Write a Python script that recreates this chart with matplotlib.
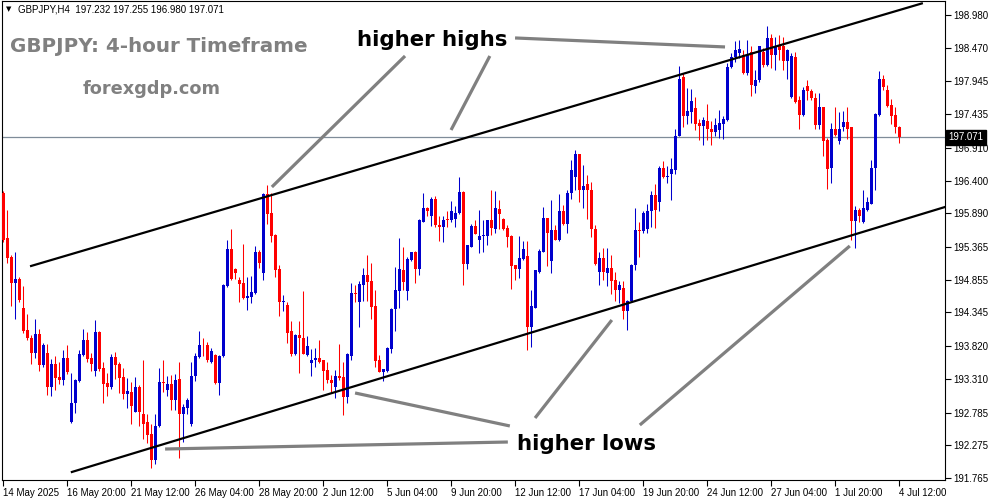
import matplotlib.pyplot as plt
import numpy as np
from matplotlib.transforms import blended_transform_factory

# GBPJPY H4 свечи (читаются с картинки)
opens = [196.21, 195.50, 195.21, 194.81, 194.87, 194.42, 194.07, 193.94, 193.71, 194.01,
         193.52, 193.71, 193.19, 193.54, 193.34, 193.29, 193.64, 192.64, 192.93, 193.27,
         193.68, 193.92, 193.63, 193.44, 194.04, 193.48, 193.25, 193.18, 193.65, 193.54,
         193.34, 193.07, 193.11, 192.80, 193.18, 192.76, 192.63, 192.45, 192.04, 192.58,
         193.26, 193.14, 193.23, 192.98, 193.31, 192.76, 192.86, 192.60, 193.35, 193.65,
         193.84, 193.84, 193.58, 193.68, 193.25, 193.66, 194.76, 195.33, 195.02, 194.85,
         194.80, 194.57, 194.58, 194.65, 195.29, 194.96, 196.19, 195.89, 195.55, 195.02,
         194.50, 194.46, 194.06, 193.70, 194.00, 193.94, 193.68, 193.56, 193.61, 193.63,
         193.60, 193.45, 193.29, 193.19, 193.36, 193.34, 193.02, 193.67, 194.65, 194.51,
         194.77, 194.93, 194.84, 194.44, 193.60, 193.41, 193.44, 193.78, 194.40, 194.68,
         195.01, 194.68, 195.16, 195.28, 195.02, 195.76, 195.98, 195.85, 196.12, 195.71,
         195.67, 195.79, 195.79, 195.80, 195.89, 196.22, 195.10, 195.37, 195.69, 195.47,
         195.54, 195.54, 195.78, 195.65, 195.96, 195.80, 195.66, 195.54, 195.08, 195.02,
         195.18, 195.22, 194.12, 194.42, 194.98, 195.29, 195.81, 195.14, 195.63, 195.48,
         195.92, 195.72, 196.20, 196.45, 196.81, 196.25, 196.35, 196.25, 195.64, 194.97,
         195.19, 194.96, 195.03, 194.85, 194.69, 194.72, 194.37, 194.53, 195.08, 195.63,
         195.62, 195.64, 195.92, 196.17, 196.06, 196.59, 196.45, 196.51, 196.56, 197.10,
         198.02, 197.41, 197.47, 197.53, 197.29, 197.25, 197.33, 197.20, 197.16, 197.19,
         197.28, 197.34, 198.17, 198.33, 198.38, 198.36, 198.07, 198.41, 197.88, 197.96,
         198.41, 198.20, 198.62, 198.36, 198.49, 198.50, 198.27, 197.70, 198.33, 197.66,
         197.42, 197.88, 197.80, 197.68, 197.27, 197.54, 197.03, 196.59, 197.21, 197.02,
         197.24, 197.32, 197.23, 195.77, 195.94, 195.75, 195.94, 196.04, 196.59, 197.42,
         197.99, 197.81, 197.58, 197.42, 197.232]
highs = [196.23, 195.94, 195.24, 195.29, 194.89, 194.75, 194.32, 193.99, 194.24, 194.09,
         193.87, 193.85, 193.62, 193.66, 193.58, 193.76, 193.83, 193.40, 193.31, 193.76,
         194.09, 194.04, 193.71, 194.23, 194.05, 193.57, 193.40, 193.70, 193.73, 193.57,
         193.48, 193.32, 193.26, 193.34, 193.21, 193.60, 192.76, 192.61, 192.76, 193.48,
         193.60, 193.35, 193.37, 193.39, 193.57, 192.92, 193.01, 193.57, 193.71, 194.06,
         193.95, 193.89, 193.79, 193.69, 193.68, 194.79, 195.47, 195.65, 195.03, 194.90,
         195.41, 194.89, 194.91, 195.38, 195.32, 196.21, 196.33, 196.20, 195.56, 195.08,
         194.62, 194.51, 194.21, 194.01, 194.21, 194.68, 193.98, 193.77, 193.79, 193.92,
         193.61, 193.58, 193.37, 193.45, 193.85, 193.58, 193.71, 194.81, 194.77, 194.84,
         195.03, 195.24, 195.12, 194.69, 193.68, 193.47, 193.81, 194.41, 195.06, 195.50,
         195.37, 195.21, 195.29, 195.31, 195.80, 196.21, 195.99, 196.15, 196.16, 195.85,
         195.85, 195.93, 196.08, 196.00, 196.46, 196.23, 195.40, 195.72, 195.78, 195.94,
         195.79, 195.79, 196.25, 196.24, 196.10, 195.81, 195.71, 195.55, 195.09, 195.54,
         195.46, 195.46, 194.69, 195.01, 195.34, 195.99, 195.82, 196.09, 195.71, 196.19,
         196.02, 196.25, 196.72, 196.87, 196.82, 196.64, 196.49, 196.37, 195.71, 195.29,
         195.35, 195.35, 195.24, 194.98, 194.84, 194.83, 194.54, 195.10, 195.98, 195.75,
         195.92, 196.03, 196.23, 196.35, 196.62, 196.71, 196.62, 196.75, 197.21, 198.19,
         198.07, 197.85, 197.83, 197.70, 197.36, 197.39, 197.60, 197.33, 197.37, 197.50,
         197.40, 198.23, 198.38, 198.58, 198.59, 198.44, 198.59, 198.49, 198.12, 198.50,
         198.46, 198.81, 198.68, 198.64, 198.67, 198.64, 198.45, 198.38, 198.41, 197.71,
         197.86, 197.97, 197.82, 197.76, 197.76, 197.55, 197.06, 197.29, 197.55, 197.47,
         197.49, 197.54, 197.24, 196.00, 195.97, 196.26, 196.14, 196.72, 197.45, 198.11,
         198.05, 197.89, 197.67, 197.54, 197.255]
lows = [195.45, 195.12, 194.45, 194.25, 194.51, 194.03, 193.92, 193.54, 193.64, 193.44,
        193.49, 193.06, 193.04, 193.14, 193.23, 193.22, 193.38, 192.62, 192.78, 193.26,
        193.67, 193.57, 193.43, 193.36, 193.44, 192.93, 193.04, 193.15, 193.31, 193.09,
        193.00, 192.85, 192.60, 192.79, 192.58, 192.37, 192.31, 191.92, 191.99, 192.56,
        193.10, 193.04, 192.83, 192.83, 192.08, 192.32, 192.77, 192.58, 193.27, 193.63,
        193.66, 193.58, 193.56, 193.23, 193.06, 193.65, 194.74, 194.85, 194.87, 194.50,
        194.56, 194.39, 194.49, 194.64, 195.03, 194.85, 195.73, 195.45, 194.90, 194.29,
        194.37, 193.87, 193.66, 193.68, 193.40, 193.69, 193.67, 193.36, 193.50, 193.56,
        193.13, 193.24, 193.11, 193.01, 193.29, 192.75, 192.94, 193.60, 194.51, 194.12,
        194.53, 194.53, 194.24, 193.49, 193.41, 193.27, 193.41, 193.72, 194.05, 194.41,
        194.69, 194.54, 195.14, 194.81, 194.93, 195.75, 195.84, 195.69, 195.67, 195.46,
        195.45, 195.68, 195.76, 195.68, 195.88, 194.77, 195.02, 195.36, 195.56, 195.27,
        195.29, 195.40, 195.55, 195.59, 195.65, 195.63, 195.36, 194.71, 194.85, 194.88,
        195.16, 193.76, 193.80, 194.41, 194.96, 195.28, 195.07, 194.96, 195.47, 195.46,
        195.71, 195.59, 196.11, 196.25, 196.06, 195.97, 195.80, 195.52, 195.09, 194.78,
        194.85, 194.76, 194.64, 194.53, 194.49, 194.25, 194.07, 194.51, 195.01, 195.21,
        195.58, 195.59, 195.68, 195.66, 195.92, 196.44, 196.36, 196.09, 196.51, 197.09,
        197.24, 197.28, 197.29, 197.19, 197.03, 196.95, 197.03, 196.95, 197.09, 197.06,
        197.04, 197.33, 198.16, 198.25, 198.31, 198.06, 198.05, 197.72, 197.76, 197.94,
        198.17, 198.19, 198.15, 198.12, 198.28, 198.12, 197.99, 197.69, 197.61, 197.21,
        197.41, 197.66, 197.65, 197.21, 197.20, 196.78, 196.27, 196.36, 197.10, 196.97,
        197.18, 197.04, 195.48, 195.35, 195.76, 195.74, 195.93, 196.03, 196.25, 197.40,
        197.81, 197.55, 197.28, 197.14, 196.980]
closes = [195.47, 195.20, 194.81, 194.86, 194.54, 194.06, 193.94, 193.71, 194.01, 193.52,
          193.84, 193.19, 193.54, 193.33, 193.29, 193.64, 193.41, 192.93, 193.29, 193.70,
          193.92, 193.62, 193.54, 194.04, 193.46, 193.23, 193.18, 193.65, 193.53, 193.33,
          193.07, 193.12, 192.88, 193.18, 192.80, 192.60, 192.44, 192.04, 192.58, 193.26,
          193.25, 193.23, 192.98, 193.29, 192.76, 192.87, 192.98, 193.36, 193.67, 193.84,
          193.83, 193.60, 193.75, 193.25, 193.67, 194.77, 195.33, 194.86, 194.96, 194.79,
          194.57, 194.60, 194.66, 195.29, 195.12, 196.19, 195.88, 195.54, 195.01, 194.50,
          194.52, 194.03, 193.70, 194.00, 193.94, 193.70, 193.82, 193.61, 193.64, 193.58,
          193.43, 193.29, 193.25, 193.36, 193.32, 193.02, 193.69, 194.65, 194.63, 194.79,
          194.93, 194.82, 194.43, 193.59, 193.42, 193.46, 193.79, 194.40, 194.69, 195.02,
          194.82, 195.18, 195.28, 195.02, 195.79, 195.98, 195.93, 196.12, 195.70, 195.67,
          195.79, 195.78, 195.92, 195.89, 196.22, 195.10, 195.39, 195.69, 195.57, 195.54,
          195.55, 195.78, 195.66, 195.98, 195.88, 195.65, 195.52, 195.07, 195.02, 195.19,
          195.33, 194.12, 194.44, 195.00, 195.30, 195.81, 195.58, 195.63, 195.48, 195.92,
          195.72, 196.21, 196.57, 196.81, 196.26, 196.32, 196.25, 195.64, 195.10, 195.19,
          194.97, 195.03, 194.84, 194.69, 194.77, 194.37, 194.53, 195.08, 195.63, 195.62,
          195.90, 195.92, 196.17, 195.94, 196.59, 196.45, 196.46, 196.58, 197.10, 197.99,
          197.41, 197.48, 197.64, 197.28, 197.25, 197.34, 197.20, 197.16, 197.27, 197.30,
          197.36, 198.17, 198.33, 198.44, 198.45, 198.07, 198.36, 197.89, 197.97, 198.49,
          198.20, 198.62, 198.36, 198.49, 198.44, 198.27, 198.44, 198.34, 197.63, 197.42,
          197.81, 197.80, 197.68, 197.27, 197.54, 197.02, 196.58, 197.21, 197.11, 197.21,
          197.32, 197.20, 195.77, 195.94, 195.84, 195.97, 196.06, 196.59, 197.44, 197.99,
          197.86, 197.56, 197.41, 197.23, 197.071]

time_labels = ['14 May 2025', '16 May 20:00', '21 May 12:00', '26 May 04:00', '28 May 20:00',
               '2 Jun 12:00', '5 Jun 04:00', '9 Jun 20:00', '12 Jun 12:00', '17 Jun 04:00',
               '19 Jun 20:00', '24 Jun 12:00', '27 Jun 04:00', '1 Jul 20:00', '4 Jul 12:00']
bars_per_label = 16
price_labels = [198.980, 198.470, 197.945, 197.435, 196.910, 196.400, 195.890, 195.365,
                194.855, 194.345, 193.820, 193.310, 192.785, 192.275, 191.765]
last_price = 197.071

# линии канала и серые стрелки (индекс бара, цена)
upper_channel = [(6.9, 195.069), (229.6, 199.16)]
lower_channel = [(17.1, 191.859), (235.4, 195.988)]
highs_arrows = [[(100.4, 198.341), (67.1, 196.300)],
                [(121.6, 198.341), (111.9, 197.188)],
                [(127.9, 198.622), (180.4, 198.482)]]
lows_arrows = [[(126.1, 192.326), (40.4, 192.217)],
               [(126.6, 192.576), (87.9, 193.090)],
               [(132.9, 192.700), (152.1, 194.227)],
               [(159.1, 192.591), (211.6, 195.381)]]

W, H = 991, 501
fig = plt.figure(figsize=(W / 100, H / 100), dpi=100)
ax = fig.add_axes([2 / W, 21 / H, 943 / W, 479 / H])

o = np.array(opens)
h = np.array(highs)
l = np.array(lows)
c = np.array(closes)
x = np.arange(len(o))
cols = np.where(c >= o, '#0000CD', '#FF0000')

ax.vlines(x, l, h, colors=cols, linewidth=0.75, zorder=3)
ax.bar(x, np.maximum(np.abs(c - o), 0.014), bottom=np.minimum(o, c), width=0.78,
       color=cols, linewidth=0, zorder=3)

ax.axhline(last_price, color='#7F8C99', linewidth=0.9, zorder=1)

for pts in (upper_channel, lower_channel):
    ax.plot([p[0] for p in pts], [p[1] for p in pts], color='black', linewidth=1.6, zorder=4)
for pts in highs_arrows + lows_arrows:
    ax.plot([p[0] for p in pts], [p[1] for p in pts], color='#808080', linewidth=2.3,
            solid_capstyle='butt', zorder=4)

ax.set_xlim(-0.375, 235.4)
ax.set_ylim(191.734, 199.198)

for s in ax.spines.values():
    s.set_color('black')
    s.set_linewidth(0.8)

ax.set_xticks(np.arange(len(time_labels)) * bars_per_label)
ax.set_xticklabels(time_labels, fontsize=7, family='Liberation Sans')
for lbl in ax.get_xticklabels():
    lbl.set_horizontalalignment('left')
ax.tick_params(axis='x', direction='out', length=4, width=0.8, pad=2)

ax.yaxis.tick_right()
ax.set_yticks(price_labels)
ax.set_yticklabels(['%.3f' % p for p in price_labels], fontsize=7, family='Liberation Sans')
ax.tick_params(axis='y', direction='out', length=4, width=0.8, pad=2)

trans = blended_transform_factory(ax.transAxes, ax.transData)
ax.text(1.004, last_price, '%.3f' % last_price, transform=trans, color='white', fontsize=7,
        family='Liberation Sans', va='center', ha='left', zorder=6, clip_on=False,
        bbox=dict(boxstyle='square,pad=0.25', facecolor='black', edgecolor='black'))

def px(xp, yp):
    return xp / W, 1 - yp / H

fig.text(*px(6, 9), '\u25bc', fontsize=5, va='center', family='DejaVu Sans')
fig.text(*px(18, 9), 'GBPJPY,H4  197.232 197.255 196.980 197.071', fontsize=7,
         va='center', family='Liberation Sans')
fig.text(*px(10, 52), 'GBPJPY: 4-hour Timeframe', fontsize=14.3, fontweight='bold',
         color='#808080', va='baseline', family='DejaVu Sans')
fig.text(*px(83, 94), 'forexgdp.com', fontsize=12.8, fontweight='bold',
         color='#808080', va='baseline', family='DejaVu Sans')
fig.text(*px(357, 46), 'higher highs', fontsize=15.3, fontweight='bold',
         color='black', va='baseline', family='DejaVu Sans')
fig.text(*px(517, 450), 'higher lows', fontsize=15.3, fontweight='bold',
         color='black', va='baseline', family='DejaVu Sans')

fig.savefig('out.png', dpi=100)
